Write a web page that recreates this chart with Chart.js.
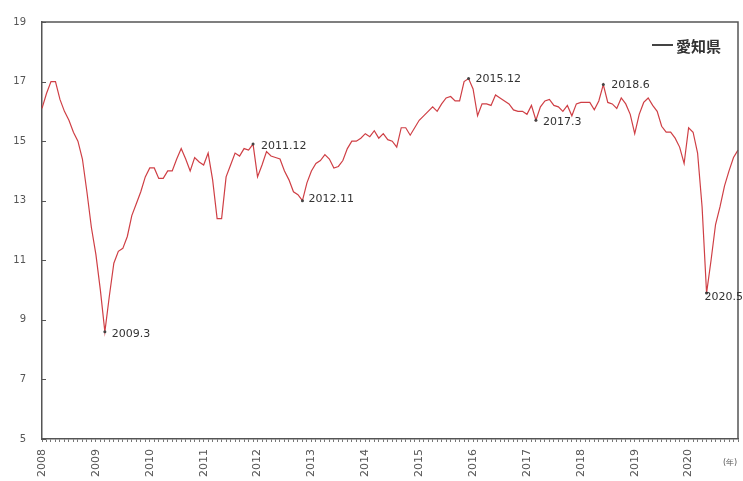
<!DOCTYPE html>
<html><head><meta charset="utf-8">
<script src="https://cdn.jsdelivr.net/npm/chart.js@4.4.1/dist/chart.umd.min.js"></script>
<style>html,body{margin:0;padding:0;background:#fff;}#wrap{width:743px;height:481px;position:relative;}</style>
</head><body><div id="wrap"><canvas id="c" width="743" height="481"></canvas></div>
<script>
const seriesName = '愛知県';
const years = [2008,2009,2010,2011,2012,2013,2014,2015,2016,2017,2018,2019,2020];
const unitLabel = '(年)';
const yTicks = [5,7,9,11,13,15,17,19];
const values = [
  16.1,16.6,17.0,17.0,16.4,16.0,15.7,15.3,15.0,14.4,13.3,12.1,
  11.2,10.0,8.6,9.8,10.9,11.3,11.4,11.8,12.5,12.9,13.3,13.8,
  14.1,14.1,13.75,13.75,14.0,14.0,14.4,14.75,14.4,14.0,14.45,14.3,
  14.2,14.6,13.7,12.4,12.4,13.8,14.2,14.6,14.5,14.75,14.7,14.9,
  13.8,14.2,14.65,14.5,14.45,14.4,14.0,13.7,13.3,13.2,13.0,13.6,
  14.0,14.25,14.35,14.55,14.4,14.1,14.15,14.35,14.75,15.0,15.0,15.1,
  15.25,15.15,15.35,15.1,15.25,15.05,15.0,14.8,15.45,15.45,15.2,15.45,
  15.7,15.85,16.0,16.15,16.0,16.25,16.45,16.5,16.35,16.35,17.0,17.1,
  16.75,15.85,16.25,16.25,16.2,16.55,16.45,16.35,16.25,16.05,16.0,16.0,
  15.9,16.2,15.7,16.15,16.35,16.4,16.2,16.15,16.0,16.2,15.85,16.25,
  16.3,16.3,16.3,16.05,16.35,16.9,16.3,16.25,16.1,16.45,16.25,15.9,
  15.25,15.9,16.3,16.45,16.2,16.0,15.5,15.3,15.3,15.1,14.8,14.25,
  15.45,15.3,14.6,12.8,9.9,11.0,12.2,12.8,13.5,14.0,14.45,14.7
];
const annotations = [
  {label:'2009.3', dx:7, dy:2},
  {label:'2011.12', dx:8, dy:2},
  {label:'2012.11', dx:6, dy:-2},
  {label:'2015.12', dx:7, dy:1},
  {label:'2017.3', dx:7, dy:2},
  {label:'2018.6', dx:8, dy:1},
  {label:'2020.5', dx:-2, dy:4}
];
const months = [];
years.forEach(y => { for (let m = 1; m <= 12; m++) months.push(y + '.' + m); });

const overlay = {
  id: 'overlay',
  afterDatasetsDraw(chart) {
    const {ctx, chartArea: a, scales: {y}} = chart;
    ctx.save();
    ctx.strokeStyle = '#555'; ctx.lineWidth = 1.5;
    ctx.beginPath();
    ctx.moveTo(a.left, a.top); ctx.lineTo(a.right, a.top); ctx.lineTo(a.right, a.bottom);
    ctx.stroke();
    ctx.lineWidth = 1;
    yTicks.forEach(v => {
      const py = Math.round(y.getPixelForValue(v)) + 0.5;
      ctx.beginPath(); ctx.moveTo(a.left, py); ctx.lineTo(a.left + 4, py); ctx.stroke();
    });
    const meta = chart.getDatasetMeta(0);
    ctx.font = '11px "DejaVu Sans"';
    ctx.textBaseline = 'middle';
    ctx.textAlign = 'left';
    annotations.forEach(an => {
      const i = months.indexOf(an.label);
      const p = meta.data[i];
      ctx.fillStyle = '#444';
      ctx.beginPath(); ctx.arc(p.x, p.y, 1.5, 0, Math.PI * 2); ctx.fill();
      ctx.fillStyle = '#333';
      ctx.fillText(an.label, p.x + an.dx, p.y + an.dy);
    });
    // legend
    ctx.strokeStyle = '#444'; ctx.lineWidth = 2;
    const lx = a.right - 86, ly = a.top + 23;
    ctx.beginPath(); ctx.moveTo(lx, ly); ctx.lineTo(lx + 21, ly); ctx.stroke();
    ctx.fillStyle = '#333';
    ctx.font = 'bold 15px "Noto Sans CJK JP"';
    ctx.fillText(seriesName, lx + 24, ly + 1);
    // unit
    ctx.font = '8px "DejaVu Sans"';
    ctx.fillStyle = '#555';
    ctx.textAlign = 'center';
    ctx.fillText(unitLabel, a.right - 8, a.bottom + 24);
    ctx.restore();
  }
};

new Chart(document.getElementById('c'), {
  type: 'line',
  data: {
    labels: months,
    datasets: [{
      label: seriesName,
      data: values,
      borderColor: '#cf3f45',
      borderWidth: 1.2,
      pointRadius: 0,
      tension: 0,
      fill: false
    }]
  },
  options: {
    responsive: false,
    animation: false,
    devicePixelRatio: 1,
    layout: {padding: {top: 19, right: 5, left: 0, bottom: 0}},
    plugins: {legend: {display: false}, tooltip: {enabled: false}},
    scales: {
      x: {
        type: 'category',
        offset: false,
        grid: {display: true, drawOnChartArea: false, drawTicks: true, tickLength: 3, color: '#777', lineWidth: 1},
        border: {display: true, color: '#555', width: 1.5},
        ticks: {
          autoSkip: false, maxRotation: 90, minRotation: 90, padding: 7,
          color: '#555', font: {family: 'DejaVu Sans', size: 11},
          callback: (v, i) => (i % 12 === 0 ? String(years[i / 12]) : '')
        },
        afterFit: s => { s.height = 42; s.paddingLeft = 0; s.paddingRight = 0; }
      },
      y: {
        min: 5, max: 19,
        afterBuildTicks: s => { s.ticks = yTicks.map(v => ({value: v})); },
        grid: {display: false, drawTicks: false},
        border: {display: true, color: '#555', width: 1.5},
        ticks: {padding: 16, color: '#555', font: {family: 'DejaVu Sans', size: 10}},
        afterFit: s => { s.width = 42; }
      }
    }
  },
  plugins: [overlay]
});
</script>
</body></html>
